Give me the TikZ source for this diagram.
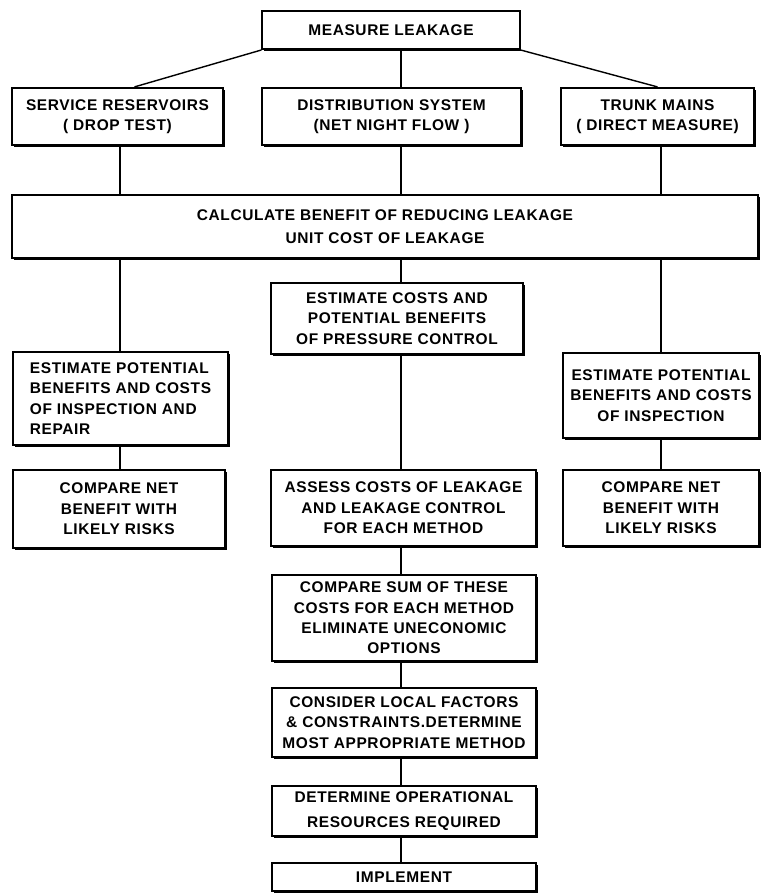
\documentclass[tikz,border=0pt]{standalone}
\usepackage{fontspec}
\setmainfont{Liberation Sans}[LetterSpace=4]
\usetikzlibrary{calc,shadows}

\tikzset{
  box/.style={draw, line width=1.4pt, fill=white, align=center, inner sep=2pt,
    font=\bfseries\fontsize{11}{14.5}\selectfont,
    drop shadow={shadow xshift=1.3pt, shadow yshift=-1.3pt, opacity=1, fill=black}},
  link/.style={line width=1pt}
}

\begin{document}
\begin{tikzpicture}[x=0.025cm, y=-0.025cm]
  \useasboundingbox (0,0) rectangle (762,896);
  \coordinate (colL) at (120,0); % left column
  \coordinate (colM) at (401,0); % middle column
  \coordinate (colR) at (661,0); % right column

  \node[box, minimum width=6.43cm, minimum height=0.95cm] (measure) at (391,30) {MEASURE LEAKAGE};
  \node[box, minimum width=5.28cm, minimum height=1.43cm] (service) at (117.5,116.5) {SERVICE RESERVOIRS\\( DROP TEST)};
  \node[box, minimum width=6.48cm, minimum height=1.43cm] (dist) at (391.5,116.5) {DISTRIBUTION SYSTEM\\(NET NIGHT FLOW )};
  \node[box, minimum width=4.83cm, minimum height=1.43cm] (trunk) at (657.5,116.5) {TRUNK MAINS\\( DIRECT MEASURE)};
  \node[box, minimum width=18.65cm, minimum height=1.58cm] (calc) at (385,226.5) {CALCULATE BENEFIT OF REDUCING LEAKAGE\\[2pt]UNIT COST OF LEAKAGE};

  \node[box, minimum width=6.3cm, minimum height=1.78cm] (estcost) at (397,318.5) {ESTIMATE COSTS AND\\POTENTIAL BENEFITS\\OF PRESSURE CONTROL};
  \node[box, align=left, minimum width=5.38cm, minimum height=2.33cm] (estL) at (120.5,398.5) {ESTIMATE POTENTIAL\\BENEFITS AND COSTS\\OF INSPECTION AND\\REPAIR};
  \node[box, minimum width=4.9cm, minimum height=2.13cm] (estR) at (661,395.5) {ESTIMATE POTENTIAL\\BENEFITS AND COSTS\\OF INSPECTION};

  \node[box, minimum width=5.3cm, minimum height=1.95cm] (cmpL) at (119,509) {COMPARE NET\\BENEFIT WITH\\LIKELY RISKS};
  \node[box, minimum width=6.63cm, minimum height=1.9cm] (assess) at (403.5,508) {ASSESS COSTS OF LEAKAGE\\AND LEAKAGE CONTROL\\FOR EACH METHOD};
  \node[box, minimum width=4.9cm, minimum height=1.9cm] (cmpR) at (661,508) {COMPARE NET\\BENEFIT WITH\\LIKELY RISKS};

  \node[box, minimum width=6.6cm, minimum height=2.15cm] (sum) at (404,618) {COMPARE SUM OF THESE\\COSTS FOR EACH METHOD\\ELIMINATE UNECONOMIC\\OPTIONS};
  \node[box, minimum width=6.6cm, minimum height=1.73cm] (consider) at (404,722.5) {CONSIDER LOCAL FACTORS\\\& CONSTRAINTS.DETERMINE\\MOST APPROPRIATE METHOD};
  \node[box, minimum width=6.6cm, minimum height=1.25cm] (determine) at (404,811) {DETERMINE OPERATIONAL\\[3pt]RESOURCES REQUIRED};
  \node[box, minimum width=6.6cm, minimum height=0.7cm] (implement) at (404,877) {IMPLEMENT};

  \draw[link] (measure.south west) -- ($(service.north)+(17,0)$); % to reservoirs
  \draw[link] (measure.south -| colM) -- (dist.north -| colM);
  \draw[link] (measure.south east) -- (trunk.north); % to trunk mains
  \draw[link] (service.south -| colL) -- (calc.north -| colL);
  \draw[link] (dist.south -| colM) -- (calc.north -| colM);
  \draw[link] (trunk.south -| colR) -- (calc.north -| colR);
  \draw[link] (calc.south -| colL) -- (estL.north -| colL);
  \draw[link] (calc.south -| colM) -- (estcost.north -| colM);
  \draw[link] (calc.south -| colR) -- (estR.north -| colR);
  \draw[link] (estL.south -| colL) -- (cmpL.north -| colL);
  \draw[link] (estR.south -| colR) -- (cmpR.north -| colR);
  \foreach \a/\b in {estcost/assess, assess/sum, sum/consider, consider/determine, determine/implement}
    \draw[link] (\a.south -| colM) -- (\b.north -| colM); % middle chain
\end{tikzpicture}
\end{document}
